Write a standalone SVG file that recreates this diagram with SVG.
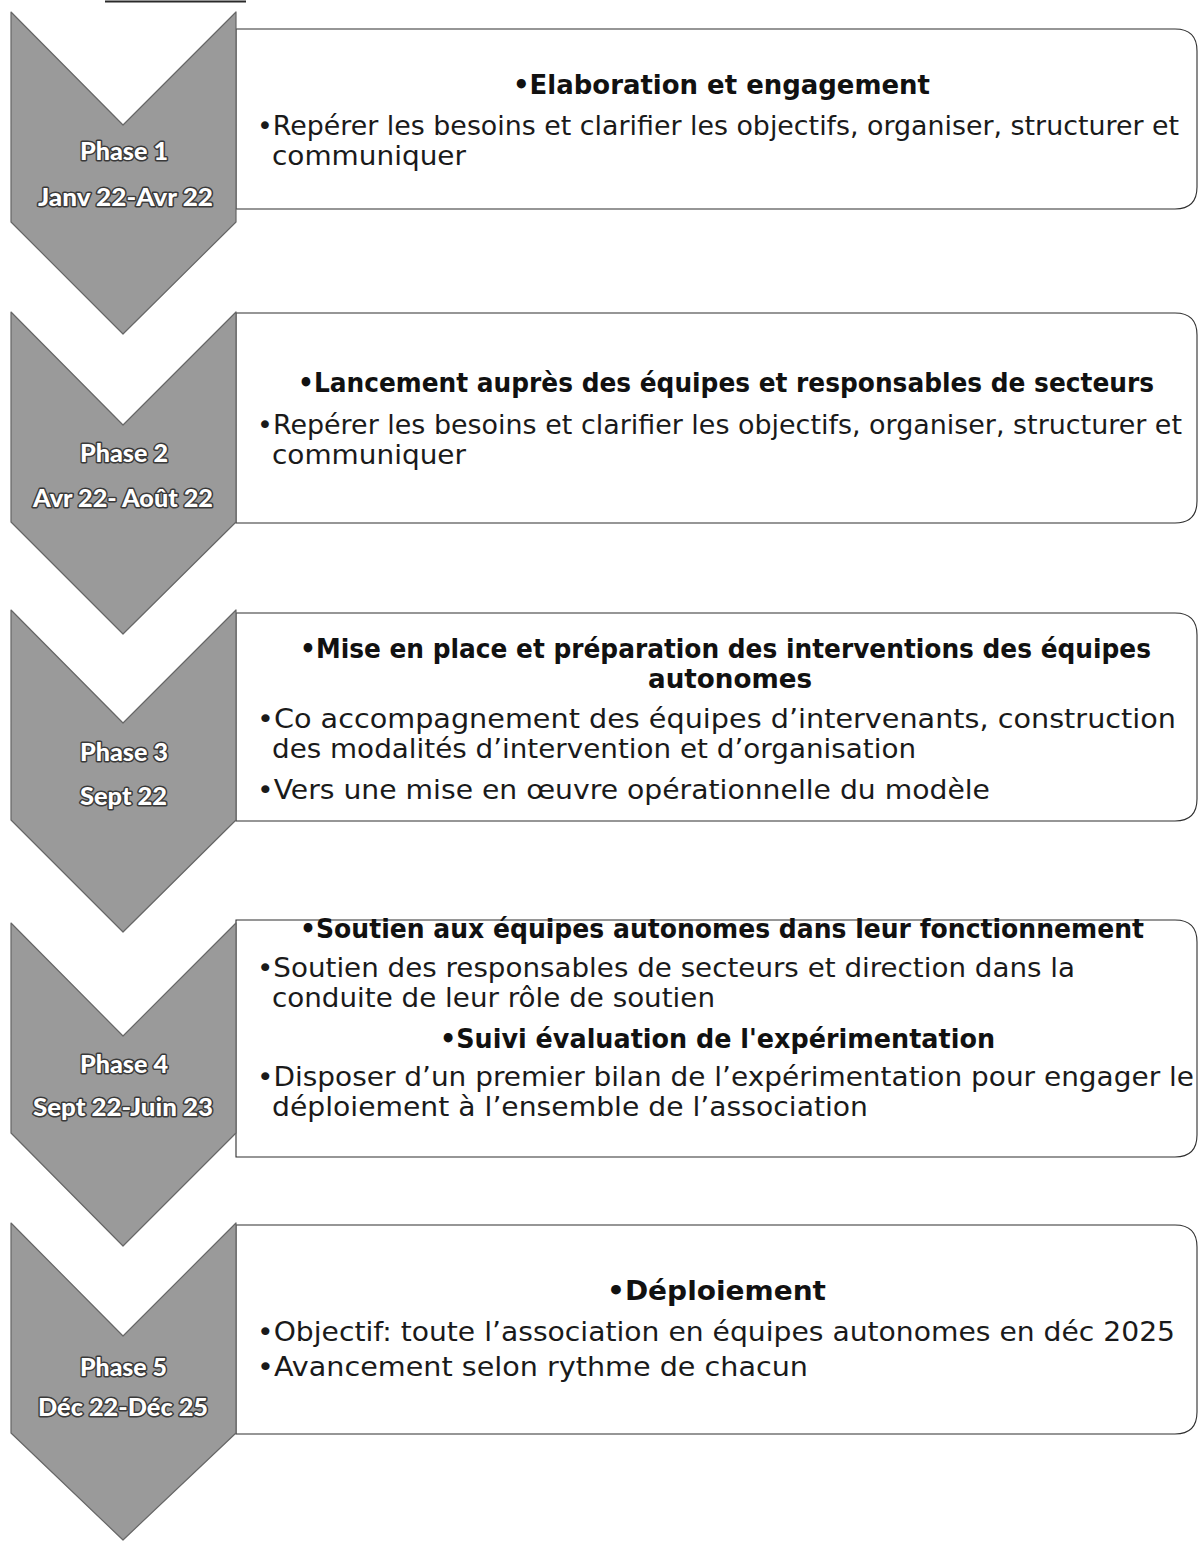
<svg xmlns="http://www.w3.org/2000/svg" width="1198" height="1542" viewBox="0 0 1198 1542">
  <style>
    .chev { fill: #9a9a9a; stroke: #666666; stroke-width: 1.2; stroke-linejoin: round; }
    .box { fill: #ffffff; stroke: #2e2e2e; stroke-width: 1.1; }
    .ph { font-family: Lato, "Open Sans", "Liberation Sans", sans-serif; font-weight: 900; font-size: 25px; fill: #ffffff; stroke: #3a3a3a; stroke-width: 3; paint-order: stroke; stroke-linejoin: round; }
    .hd { font-family: "DejaVu Sans", "Liberation Sans", sans-serif; font-weight: 700; font-size: 26px; fill: #111111; }
    .tx { font-family: "DejaVu Sans", "Liberation Sans", sans-serif; font-size: 27px; fill: #1a1a1a; }
  </style>

  <rect x="0" y="0" width="1198" height="1542" fill="#ffffff"/>
  <line x1="105" y1="1.5" x2="246" y2="1.5" stroke="#2a2a2a" stroke-width="2"/>

  <!-- detail boxes: flat left edge against the chevron, rounded right corners -->
  <g id="boxes">
    <path id="box-1" class="box" d="M236,29 H1175 Q1197,29 1197,51 V187 Q1197,209 1175,209 H236 Z"/>
    <path id="box-2" class="box" d="M236,313 H1175 Q1197,313 1197,335 V501 Q1197,523 1175,523 H236 Z"/>
    <path id="box-3" class="box" d="M236,613 H1175 Q1197,613 1197,635 V799 Q1197,821 1175,821 H236 Z"/>
    <path id="box-4" class="box" d="M236,920 H1175 Q1197,920 1197,942 V1135 Q1197,1157 1175,1157 H236 Z"/>
    <path id="box-5" class="box" d="M236,1225 H1175 Q1197,1225 1197,1247 V1412 Q1197,1434 1175,1434 H236 Z"/>
  </g>

  <!-- phase 1 -->
  <g id="phase-1">
    <polygon class="chev" points="11,12 123,125 236,12 236,222 123,334 11,222"/>
    <text class="ph" x="80" y="160" textLength="88" lengthAdjust="spacingAndGlyphs">Phase 1</text>
    <text class="ph" x="38" y="206" textLength="175" lengthAdjust="spacingAndGlyphs">Janv 22-Avr 22</text>
    <text class="hd" x="513" y="94" textLength="417" lengthAdjust="spacingAndGlyphs">•Elaboration et engagement</text>
    <text class="tx" x="257" y="135" textLength="922" lengthAdjust="spacingAndGlyphs">•Repérer les besoins et clarifier les objectifs, organiser, structurer et</text>
    <text class="tx" x="272" y="165" textLength="194" lengthAdjust="spacingAndGlyphs">communiquer</text>
  </g>

  <!-- phase 2 -->
  <g id="phase-2">
    <polygon class="chev" points="11,312 123,425 236,312 236,522 123,634 11,522"/>
    <text class="ph" x="80" y="462" textLength="88" lengthAdjust="spacingAndGlyphs">Phase 2</text>
    <text class="ph" x="33" y="507" textLength="180" lengthAdjust="spacingAndGlyphs">Avr 22- Août 22</text>
    <text class="hd" x="298" y="392" textLength="856" lengthAdjust="spacingAndGlyphs">•Lancement auprès des équipes et responsables de secteurs</text>
    <text class="tx" x="257" y="434" textLength="925" lengthAdjust="spacingAndGlyphs">•Repérer les besoins et clarifier les objectifs, organiser, structurer et</text>
    <text class="tx" x="272" y="464" textLength="194" lengthAdjust="spacingAndGlyphs">communiquer</text>
  </g>

  <!-- phase 3 -->
  <g id="phase-3">
    <polygon class="chev" points="11,610 123,723 236,610 236,820 123,932 11,820"/>
    <text class="ph" x="80" y="761" textLength="88" lengthAdjust="spacingAndGlyphs">Phase 3</text>
    <text class="ph" x="80" y="805" textLength="87" lengthAdjust="spacingAndGlyphs">Sept 22</text>
    <text class="hd" x="300" y="658" textLength="851" lengthAdjust="spacingAndGlyphs">•Mise en place et préparation des interventions des équipes</text>
    <text class="hd" x="648" y="688" textLength="164" lengthAdjust="spacingAndGlyphs">autonomes</text>
    <text class="tx" x="257" y="728" textLength="919" lengthAdjust="spacingAndGlyphs">•Co accompagnement des équipes d’intervenants, construction</text>
    <text class="tx" x="272" y="758" textLength="644" lengthAdjust="spacingAndGlyphs">des modalités d’intervention et d’organisation</text>
    <text class="tx" x="257" y="799" textLength="733" lengthAdjust="spacingAndGlyphs">•Vers une mise en œuvre opérationnelle du modèle</text>
  </g>

  <!-- phase 4 -->
  <g id="phase-4">
    <polygon class="chev" points="11,923 123,1036 236,923 236,1133 123,1246 11,1133"/>
    <text class="ph" x="80" y="1073" textLength="88" lengthAdjust="spacingAndGlyphs">Phase 4</text>
    <text class="ph" x="33" y="1116" textLength="180" lengthAdjust="spacingAndGlyphs">Sept 22-Juin 23</text>
    <text class="hd" x="300" y="938" textLength="844" lengthAdjust="spacingAndGlyphs">•Soutien aux équipes autonomes dans leur fonctionnement</text>
    <text class="tx" x="257" y="977" textLength="818" lengthAdjust="spacingAndGlyphs">•Soutien des responsables de secteurs et direction dans la</text>
    <text class="tx" x="272" y="1007" textLength="443" lengthAdjust="spacingAndGlyphs">conduite de leur rôle de soutien</text>
    <text class="hd" x="440" y="1048" textLength="555" lengthAdjust="spacingAndGlyphs">•Suivi évaluation de l'expérimentation</text>
    <text class="tx" x="257" y="1086" textLength="937" lengthAdjust="spacingAndGlyphs">•Disposer d’un premier bilan de l’expérimentation pour engager le</text>
    <text class="tx" x="272" y="1116" textLength="596" lengthAdjust="spacingAndGlyphs">déploiement à l’ensemble de l’association</text>
  </g>

  <!-- phase 5 -->
  <g id="phase-5">
    <polygon class="chev" points="11,1223 123,1336 236,1223 236,1433 123,1540 11,1433"/>
    <text class="ph" x="80" y="1376" textLength="87" lengthAdjust="spacingAndGlyphs">Phase 5</text>
    <text class="ph" x="38" y="1416" textLength="170" lengthAdjust="spacingAndGlyphs">Déc 22-Déc 25</text>
    <text class="hd" x="607" y="1300" textLength="219" lengthAdjust="spacingAndGlyphs">•Déploiement</text>
    <text class="tx" x="257" y="1341" textLength="918" lengthAdjust="spacingAndGlyphs">•Objectif: toute l’association en équipes autonomes en déc 2025</text>
    <text class="tx" x="257" y="1376" textLength="551" lengthAdjust="spacingAndGlyphs">•Avancement selon rythme de chacun</text>
  </g>

  <g id="connectors"/>
</svg>
